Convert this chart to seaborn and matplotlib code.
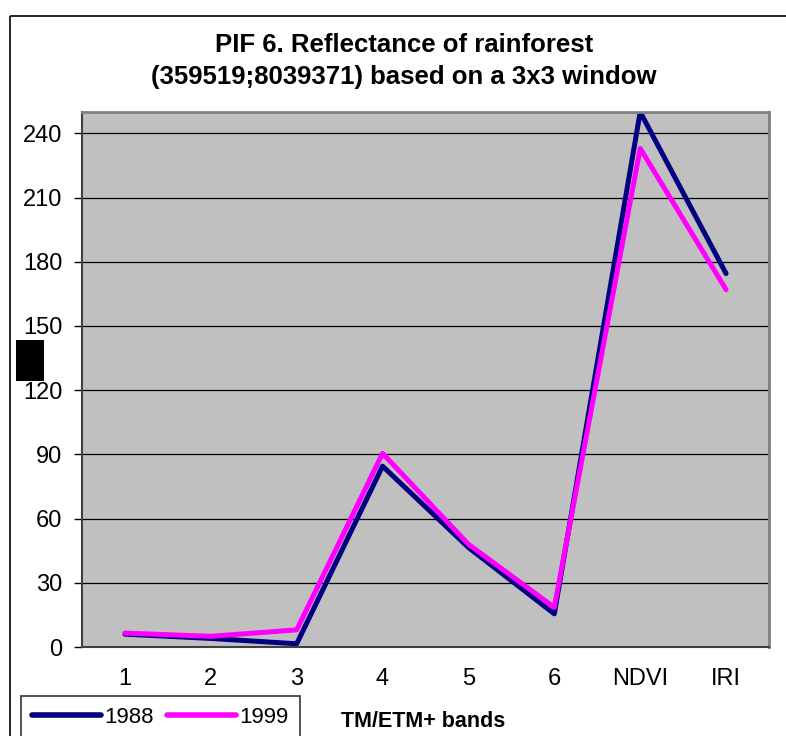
import matplotlib
matplotlib.use("Agg")
import matplotlib.pyplot as plt
import matplotlib.patches as mpatches
import seaborn as sns
import pandas as pd

bands = ["1", "2", "3", "4", "5", "6", "NDVI", "IRI"]
values_1988 = [6, 4, 1.5, 84.5, 46.5, 15.5, 250, 174.5]
values_1999 = [6.5, 5, 8, 90.5, 48, 18.5, 233, 167]
years = ["1988", "1999"]
colors = ["#000080", "#FF00FF"]
yticks = [0, 30, 60, 90, 120, 150, 180, 210, 240]
title = "PIF 6. Reflectance of rainforest\n(359519;8039371) based on a 3x3 window"
xlabel = "TM/ETM+ bands"

df = pd.DataFrame({
    "band": bands * 2,
    "value": values_1988 + values_1999,
    "year": [years[0]] * len(bands) + [years[1]] * len(bands),
})

sns.set_theme(style="white")
plt.rcParams["font.family"] = ["Liberation Sans", "DejaVu Sans"]
plt.rcParams["text.color"] = "black"
plt.rcParams["xtick.color"] = "black"
plt.rcParams["ytick.color"] = "black"
plt.rcParams["axes.labelcolor"] = "black"

W, H = 786, 736
fig = plt.figure(figsize=(W / 100, H / 100), dpi=100)
fig.patch.set_facecolor("white")

# outer chart border
fig.patches.append(mpatches.Rectangle((10 / W, 1 - 16 / H), 2, -2,
                                      transform=fig.transFigure, fill=False,
                                      edgecolor="black", linewidth=1.2))

ax = fig.add_axes([82 / W, 1 - 647 / H, (769 - 82) / W, (647 - 112) / H])
ax.set_facecolor("#C0C0C0")

sns.lineplot(data=df, x="band", y="value", hue="year", palette=colors,
             sort=False, linewidth=3.6, ax=ax, legend=True)

ax.set_xlim(-0.5, len(bands) - 0.5)
ax.set_ylim(0, 250)
ax.set_yticks(yticks)
ax.set_yticklabels([str(t) for t in yticks], fontsize=17)
ax.yaxis.grid(True, color="black", linewidth=0.9)
ax.xaxis.grid(False)
ax.set_axisbelow(True)

ax.set_xticks(range(len(bands)))
ax.set_xticklabels(bands, fontsize=17)
ax.set_xticks([i - 0.5 for i in range(len(bands) + 1)], minor=True)
ax.tick_params(axis="x", which="major", length=0, pad=15)
ax.tick_params(axis="x", which="minor", length=6, width=1, color="black", direction="out")
ax.tick_params(axis="y", which="major", length=6, width=1, color="black",
               direction="out", pad=8, left=True)

for side in ["top", "right"]:
    ax.spines[side].set_color("#808080")
    ax.spines[side].set_linewidth(2)
for side in ["left", "bottom"]:
    ax.spines[side].set_color("#404040")
    ax.spines[side].set_linewidth(1.5)

ax.set_ylabel("")
ax.set_xlabel(xlabel, fontsize=15.5, fontweight="bold")
ax.xaxis.set_label_coords(0.497, -0.119)

fig.text(404 / W, 1 - 61 / H, title, ha="center", va="center",
         fontsize=18.5, fontweight="bold", linespacing=1.4)

# redaction block next to the y axis
fig.patches.append(mpatches.Rectangle((16 / W, 1 - 381 / H), 28 / W, 41 / H,
                                      transform=fig.transFigure,
                                      facecolor="black", edgecolor="none"))

handles, labels = ax.get_legend_handles_labels()
ax.get_legend().remove()
leg = fig.legend(handles, labels, ncol=2, loc="lower left",
                 bbox_to_anchor=(10 / W, -14 / H), fontsize=16,
                 frameon=True, fancybox=False, handlelength=3.1,
                 handletextpad=0.15, columnspacing=0.6, borderpad=0.5)
leg.get_frame().set_edgecolor("black")
leg.get_frame().set_linewidth(1.2)
for line in leg.get_lines():
    line.set_linewidth(4)

fig.savefig("out.png", dpi=100, facecolor="white")
